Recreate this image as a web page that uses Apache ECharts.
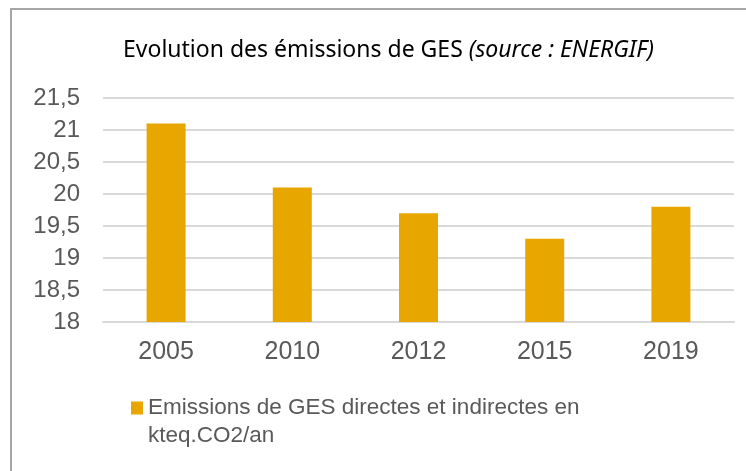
<!DOCTYPE html>
<html>
<head>
<meta charset="utf-8">
<script src="https://cdn.jsdelivr.net/npm/echarts@6/dist/echarts.min.js"></script>
<style>
  html, body { margin: 0; padding: 0; background: #fff; }
  #chart { width: 746px; height: 471px; }
</style>
</head>
<body>
<div id="chart"></div>
<script>
// Annual greenhouse-gas emissions, kteq.CO2/an
const years = ['2005', '2010', '2012', '2015', '2019'];
const emissions = [21.1, 20.1, 19.7, 19.3, 19.8];
const seriesLines = ['Emissions de GES directes et indirectes en', 'kteq.CO2/an'];

const textGrey = '#595959';
const gridGrey = '#d9d9d9';
const barColor = '#E8A600';
const labelFont = 'Liberation Sans, Arial, sans-serif';
const legendSize = 22.5;

const chart = echarts.init(document.getElementById('chart'), null, { renderer: 'canvas' });

chart.setOption({
  backgroundColor: '#ffffff',
  animation: false,
  title: {
    text: 'Evolution des émissions de GES {i|(source : ENERGIF)}',
    left: 118,
    top: 34,
    textStyle: {
      fontFamily: 'Noto Sans, sans-serif',
      fontSize: 23,
      fontWeight: 'normal',
      color: '#000000',
      rich: {
        i: {
          fontFamily: 'Noto Sans, sans-serif',
          fontSize: 23,
          fontStyle: 'italic',
          color: '#000000'
        }
      }
    }
  },
  graphic: [
    {
      // chart frame (only the top and left edges fall inside the canvas)
      type: 'rect',
      shape: { x: 11, y: 9, width: 900, height: 700 },
      style: { fill: 'none', stroke: '#a6a6a6', lineWidth: 2 },
      silent: true
    },
    {
      // wrapped second line of the legend entry
      type: 'text',
      left: 148,
      top: 424,
      style: {
        text: seriesLines[1],
        fontFamily: labelFont,
        fontSize: legendSize,
        fill: textGrey
      },
      silent: true
    }
  ],
  legend: {
    left: 126,
    top: 390,
    icon: 'rect',
    itemWidth: 12,
    itemHeight: 13,
    data: [seriesLines.join(' ')],
    formatter: () => seriesLines[0],
    textStyle: {
      fontFamily: labelFont,
      fontSize: legendSize,
      color: textGrey,
      lineHeight: 26
    }
  },
  grid: {
    left: 103,
    right: 12,
    top: 98,
    bottom: 149,
    containLabel: false
  },
  xAxis: {
    type: 'category',
    data: years,
    axisTick: { show: false },
    axisLine: { lineStyle: { color: gridGrey, width: 2 } },
    axisLabel: {
      fontFamily: labelFont,
      fontSize: 25,
      color: textGrey,
      margin: 18
    }
  },
  yAxis: {
    type: 'value',
    min: 18,
    max: 21.5,
    interval: 0.5,
    axisLine: { show: false },
    axisTick: { show: false },
    splitLine: { lineStyle: { color: gridGrey, width: 2 } },
    axisLabel: {
      fontFamily: labelFont,
      fontSize: 24,
      color: textGrey,
      margin: 23,
      formatter: v => String(v).replace('.', ',')
    }
  },
  series: [{
    name: seriesLines.join(' '),
    type: 'bar',
    data: emissions,
    barWidth: 39,
    itemStyle: { color: barColor }
  }]
});
</script>
</body>
</html>
